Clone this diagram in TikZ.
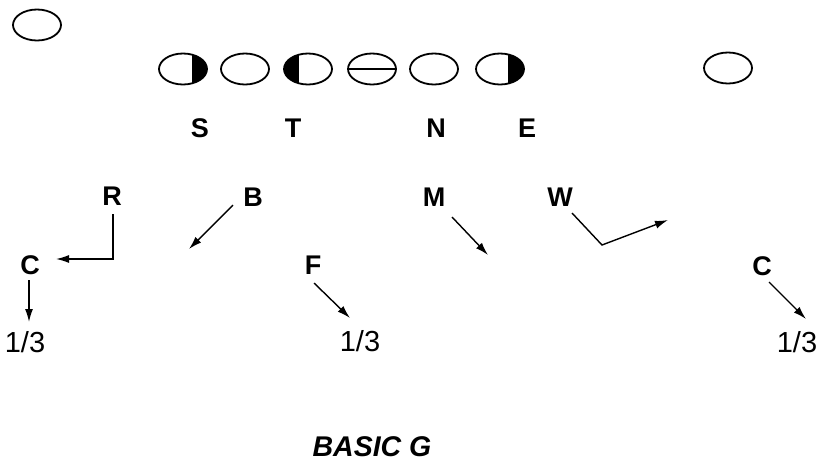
\documentclass[tikz,border=0pt]{standalone}
\usepackage{fontspec}
\setmainfont{Liberation Sans}
\usetikzlibrary{arrows.meta,shapes.geometric}
\begin{document}
\begin{tikzpicture}[x=1pt,y=-1pt,
  pl/.style={ellipse,draw,line width=1.8pt,minimum width=48pt,minimum height=31pt,inner sep=0pt},
  lab/.style={font=\fontsize{27}{27}\selectfont\bfseries,inner sep=0pt},
  zone/.style={font=\fontsize{29}{29}\selectfont,inner sep=0pt},
  rt/.style={line width=1.4pt,-{Latex[length=13pt,width=8pt]}},
]
\useasboundingbox (0,0) rectangle (818,464);
% shaded halves
\begin{scope}
  \clip (183,69) ellipse [x radius=24pt, y radius=15.5pt];
  \fill (192,40) rectangle (220,100);
\end{scope}
\begin{scope}
  \clip (308,69) ellipse [x radius=24pt, y radius=15.5pt];
  \fill (270,40) rectangle (299,100);
\end{scope}
\begin{scope}
  \clip (500,69) ellipse [x radius=24pt, y radius=15.5pt];
  \fill (508,40) rectangle (540,100);
\end{scope}
% players
\node[pl] (q)  at (37,25) {};
\node[pl] (e1) at (183,69) {};
\node[pl] (e2) at (245,69) {};
\node[pl] (e3) at (308,69) {};
\node[pl] (e4) at (372,69) {};
\node[pl] (e5) at (434,69) {};
\node[pl] (e6) at (500,69) {};
\node[pl] (e7) at (728,68) {};
\draw[line width=1.8pt] (e4.west) -- (e4.east);
% labels
\node[lab] (S) at (200,128) {S};
\node[lab] (T) at (293,128) {T};
\node[lab] (N) at (436,128) {N};
\node[lab] (E) at (527,128) {E};
\node[lab] (R) at (112,196) {R};
\node[lab] (B) at (253,197) {B};
\node[lab] (M) at (434,197) {M};
\node[lab] (W) at (560,197) {W};
\node[lab] (C1) at (30,265) {C};
\node[lab] (F) at (313,265) {F};
\node[lab] (C2) at (762,266) {C};
\node[zone] (z1) at (25,342) {1/3};
\node[zone] (z2) at (360,341) {1/3};
\node[zone] (z3) at (797,342) {1/3};
\node[font=\fontsize{28.5}{28.5}\selectfont\bfseries\itshape,inner sep=0pt] (title) at (372,447) {BASIC G};
% route points
\coordinate (r0) at (113,214);
\coordinate (r1) at (113,259);
\coordinate (r2) at (56,259);
\coordinate (b0) at (233,205);
\coordinate (b1) at (189,249);
\coordinate (m0) at (452,217);
\coordinate (m1) at (488,255);
\coordinate (w0) at (572,213);
\coordinate (w1) at (602,245);
\coordinate (w2) at (668,220);
\coordinate (c0) at (29,280);
\coordinate (c1) at (29,322);
\coordinate (f0) at (314,283);
\coordinate (f1) at (350,318);
\coordinate (d0) at (769,282);
\coordinate (d1) at (806,319);
% routes
\draw[rt] (r0) -- (r1) -- (r2);
\draw[rt] (b0) -- (b1);
\draw[rt] (m0) -- (m1);
\draw[rt] (w0) -- (w1) -- (w2);
\draw[rt] (c0) -- (c1);
\draw[rt] (f0) -- (f1);
\draw[rt] (d0) -- (d1);
\end{tikzpicture}
\end{document}
